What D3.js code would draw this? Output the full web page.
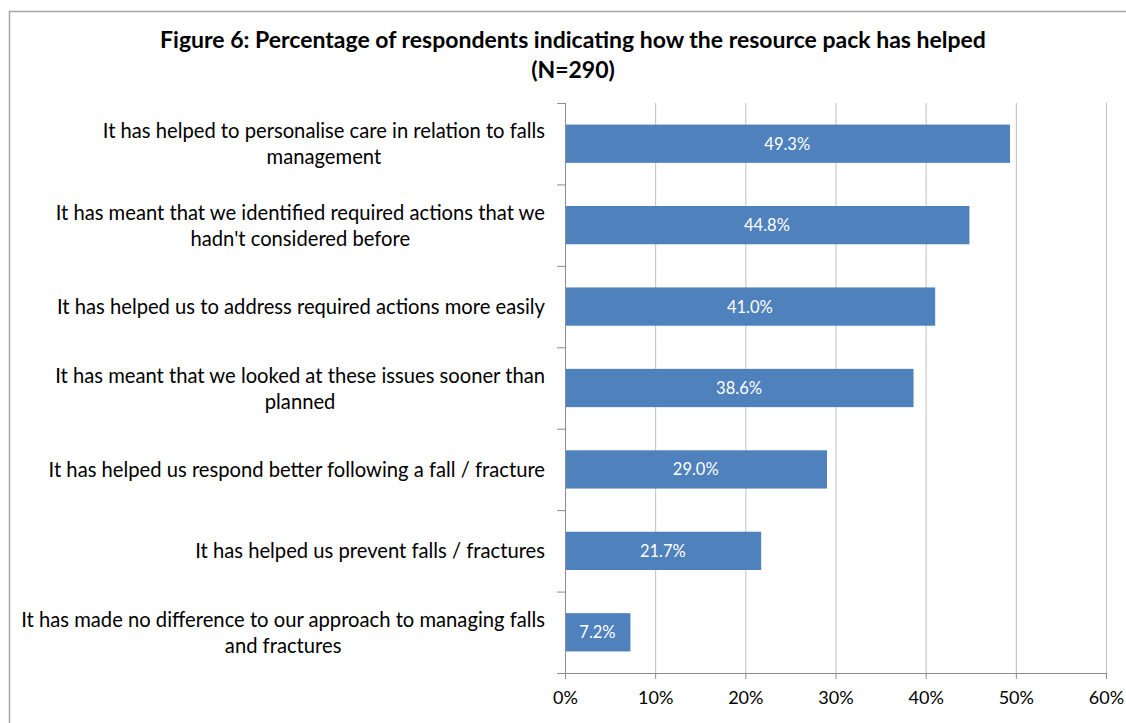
<!DOCTYPE html>
<html><head><meta charset="utf-8">
<script src="https://cdn.jsdelivr.net/npm/d3@7"></script>
<style>body{margin:0;background:#fff;}svg{display:block;font-family:Lato,"Open Sans",sans-serif;}</style>
</head><body>
<svg id="c" width="1126" height="723"></svg>
<script>
const categories = [
  ["It has helped to personalise care in relation to falls", "management"],
  ["It has meant that we identified required actions that we", "hadn't considered before"],
  ["It has helped us to address required actions more easily"],
  ["It has meant that we looked at these issues sooner than", "planned"],
  ["It has helped us respond better following a fall / fracture"],
  ["It has helped us prevent falls / fractures"],
  ["It has made no difference to our approach to managing falls", "and fractures"]
];
const values = [49.3, 44.8, 41.0, 38.6, 29.0, 21.7, 7.2];
const ticks = [0, 10, 20, 30, 40, 50, 60];
const titleLines = ["Figure 6: Percentage of respondents indicating how the resource pack has helped", "(N=290)"];

(function(){
const svg = d3.select("#c");
const pL = 565, pR = 1106, pT = 103, pB = 673;
const x = d3.scaleLinear().domain([0, 60]).range([pL, pR]);
const y = d3.scaleBand().domain(d3.range(values.length)).range([pT, pB]).paddingInner(0.53).paddingOuter(0.265);

// border
svg.append("path").attr("d", `M9.5,723 V11.5 H1126`).attr("fill","none").attr("stroke","#a6a6a6").attr("stroke-width",1.5);

// title
svg.append("g").selectAll("text").data(titleLines).join("text")
  .attr("x", 573).attr("y", (d,i)=> 48 + i*30)
  .attr("text-anchor","middle").attr("font-weight","bold").attr("font-size",23).attr("fill","#000")
  .text(d=>d);

// gridlines
svg.append("g").selectAll("line").data(ticks.slice(1)).join("line")
  .attr("x1", d=>x(d)+0.5).attr("x2", d=>x(d)+0.5).attr("y1", pT).attr("y2", pB)
  .attr("stroke","#bfbfbf").attr("stroke-width",1);

// x axis
const xa = svg.append("g").attr("transform", `translate(0,${pB})`)
  .call(d3.axisBottom(x).tickValues(ticks).tickFormat(d=>d+"%").tickSize(6).tickPadding(12));
xa.select(".domain").attr("stroke","#8c8c8c");
xa.selectAll(".tick line").attr("stroke","#8c8c8c");
xa.selectAll("text").attr("font-size",18).attr("fill","#000").attr("font-family","Lato, 'Open Sans', sans-serif");

// bars
svg.append("g").selectAll("rect").data(values).join("rect")
  .attr("x", pL+0.5).attr("y", (d,i)=>y(i)).attr("width", d=>x(d)-pL).attr("height", y.bandwidth())
  .attr("fill","#4f81bd");

// y axis line + ticks at band boundaries
const step = y.step();
svg.append("line").attr("x1",pL+0.5).attr("x2",pL+0.5).attr("y1",pT).attr("y2",pB+6).attr("stroke","#8c8c8c");
svg.append("g").selectAll("line").data(d3.range(values.length+1)).join("line")
  .attr("x1", pL-8).attr("x2", pL).attr("y1", i=>pT+i*step+0.5).attr("y2", i=>pT+i*step+0.5)
  .attr("stroke","#8c8c8c");

// data labels
svg.append("g").selectAll("text").data(values).join("text")
  .attr("x", d=>(pL + x(d))/2).attr("y", (d,i)=>y(i)+y.bandwidth()/2+6)
  .attr("text-anchor","middle").attr("fill","#fff").attr("font-size",16.5)
  .text(d=>d.toFixed(1)+"%");

// category labels
const lab = svg.append("g");
categories.forEach((lines, i) => {
  const cy = y(i) + y.bandwidth()/2;
  const g = lab.append("g");
  const ts = lines.map((t, k) => g.append("text")
    .attr("y", cy + 7.5 + (k - (lines.length-1)/2) * 26)
    .attr("font-size",20.2).attr("fill","#000").attr("text-anchor","middle").text(t));
  const maxW = d3.max(ts, t => t.node().getComputedTextLength());
  ts.forEach(t => t.attr("x", 545 - maxW/2));
});
})();
</script>
</body></html>
